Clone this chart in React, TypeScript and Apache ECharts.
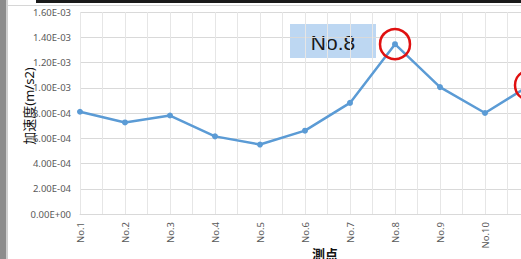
import React, { useEffect, useRef } from "react";
import * as echarts from "echarts";

const categories = ["No.1", "No.2", "No.3", "No.4", "No.5", "No.6", "No.7", "No.8", "No.9", "No.10", "No.11"];
const accel = [8.1e-4, 7.25e-4, 7.8e-4, 6.15e-4, 5.5e-4, 6.6e-4, 8.8e-4, 1.345e-3, 1.005e-3, 8.0e-4, 1.02e-3];
const highlighted = ["No.8", "No.11"];
const visibleLabelCount = 10;
const yTicks = { min: 0, max: 1.6e-3, interval: 2e-4 };
const yTitle = "加速度(m/s2)";
const xTitle = "測点";
const calloutText = "No.8";

function fmtSci(v: number): string {
  if (v === 0) return "0.00E+00";
  const s = v.toExponential(2);
  const [m, e] = s.split("e");
  const n = parseInt(e, 10);
  const sign = n < 0 ? "-" : "+";
  const abs = Math.abs(n);
  return m + "E" + sign + (abs < 10 ? "0" + abs : String(abs));
}

export default function App() {
  const ref = useRef<HTMLDivElement>(null);
  useEffect(() => {
    if (!ref.current) return;
    const chart = echarts.init(ref.current, null, { renderer: "svg" });
    const font = "'Noto Sans', 'Noto Sans CJK JP', sans-serif";
    chart.setOption({
      animation: false,
      backgroundColor: "#ffffff",
      grid: { left: 80, top: 12, width: 450, height: 202 },
      xAxis: [
        {
          type: "category",
          data: categories,
          boundaryGap: false,
          axisLine: { show: true, lineStyle: { color: "#d9d9d9", width: 1 } },
          axisTick: { show: false },
          splitLine: { show: false },
          axisLabel: {
            rotate: 90,
            margin: 8,
            fontSize: 9.5,
            color: "#595959",
            fontFamily: font,
            interval: (i: number) => i < visibleLabelCount,
          },
        },
        {
          type: "value",
          min: 0,
          max: 10,
          interval: 0.5,
          position: "bottom",
          show: true,
          axisLine: { show: false },
          axisTick: { show: false },
          axisLabel: { show: false },
          splitLine: { show: true, lineStyle: { color: "#e6e6e6", width: 1 } },
        },
      ],
      yAxis: {
        type: "value",
        min: yTicks.min,
        max: yTicks.max,
        interval: yTicks.interval,
        axisLine: { show: false },
        axisTick: { show: false },
        axisLabel: {
          formatter: (v: number) => fmtSci(v),
          fontSize: 9.5,
          color: "#595959",
          fontFamily: font,
          margin: 9,
        },
        splitLine: { show: true, lineStyle: { color: "#d9d9d9", width: 1 } },
      },
      series: [
        {
          type: "line",
          data: accel,
          xAxisIndex: 0,
          symbol: "circle",
          symbolSize: 6,
          lineStyle: { color: "#5b9bd5", width: 2.5 },
          itemStyle: { color: "#5b9bd5" },
          markPoint: {
            symbol: "circle",
            symbolSize: 30,
            label: { show: false },
            itemStyle: { color: "rgba(0,0,0,0)", borderColor: "#e01010", borderWidth: 2.5 },
            data: highlighted.map((c) => ({ coord: [c, accel[categories.indexOf(c)]] })),
          },
        },
      ],
      graphic: [
        { type: "rect", shape: { x: 0, y: 0, width: 6, height: 259 }, style: { fill: "#8c8c8c" } },
        { type: "rect", shape: { x: 6, y: 0, width: 2, height: 259 }, style: { fill: "#cfcfcf" } },
        { type: "rect", shape: { x: 36, y: 0, width: 500, height: 3 }, style: { fill: "#1a1a1a" } },
        { type: "rect", shape: { x: 8, y: 5, width: 530, height: 1 }, style: { fill: "#d6d6d6" } },
        { type: "rect", shape: { x: 290, y: 24, width: 86, height: 34 }, style: { fill: "#bdd7f2" } },
        {
          type: "text",
          x: 333,
          y: 42,
          style: {
            text: calloutText,
            fontSize: 21,
            fill: "#1a1a1a",
            fontFamily: "'Liberation Sans', Arial, sans-serif",
            align: "center",
            verticalAlign: "middle",
          },
        },
        {
          type: "text",
          x: 29,
          y: 106,
          rotation: Math.PI / 2,
          style: {
            text: yTitle,
            fontSize: 13,
            fill: "#111",
            fontFamily: font,
            align: "center",
            verticalAlign: "middle",
          },
        },
        {
          type: "text",
          x: 325,
          y: 247,
          style: {
            text: xTitle,
            fontSize: 13,
            fontWeight: "bold",
            fill: "#111",
            fontFamily: "'Noto Sans CJK JP', sans-serif",
            align: "center",
            verticalAlign: "top",
          },
        },
      ],
    });
    return () => chart.dispose();
  }, []);
  return (
    <div style={{ position: "fixed", left: 0, top: 0, width: 521, height: 259, overflow: "hidden", background: "#fff" }}>
      <div ref={ref} style={{ width: 560, height: 259 }} />
    </div>
  );
}
